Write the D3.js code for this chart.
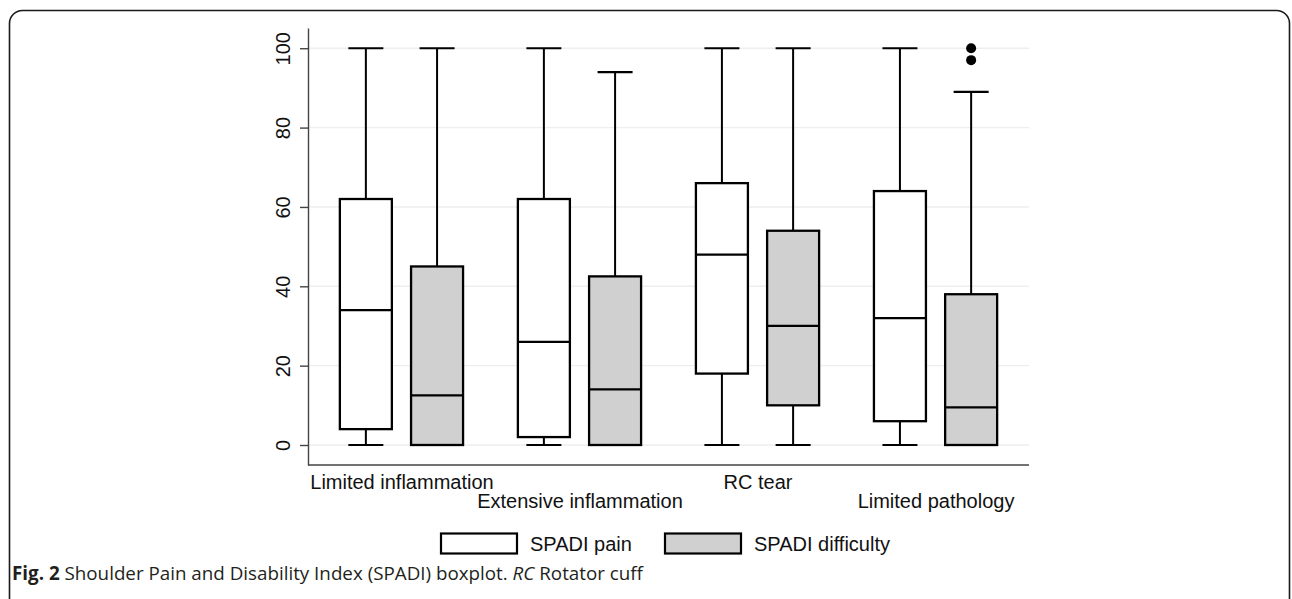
<!DOCTYPE html>
<html>
<head>
<meta charset="utf-8">
<script src="https://cdn.jsdelivr.net/npm/d3@7"></script>
<style>
  html, body { margin: 0; padding: 0; background: #ffffff; }
  svg { display: block; }
</style>
</head>
<body>
<svg id="chart" width="1292" height="599"></svg>
<script>
// ---- data ----
const categories = ["Limited inflammation", "Extensive inflammation", "RC tear", "Limited pathology"];
const seriesNames = ["SPADI pain", "SPADI difficulty"];
// [min whisker, Q1, median, Q3, max whisker] per category
const painStats = [
  [0, 4, 34, 62, 100],
  [0, 2, 26, 62, 100],
  [0, 18, 48, 66, 100],
  [0, 6, 32, 64, 100]
];
const difficultyStats = [
  [0, 0, 12.5, 45, 100],
  [0, 0, 14, 42.5, 94],
  [0, 10, 30, 54, 100],
  [0, 0, 9.5, 38, 89]
];
const difficultyOutliers = [[], [], [], [100, 97]];
const yTicks = [0, 20, 40, 60, 80, 100];
const seriesFill = ["#ffffff", "#d0d0d0"];

// ---- layout ----
const svg = d3.select("#chart");
const plot = { left: 308, right: 1029, top: 28, bottom: 465 };

// frame
svg.append("rect")
  .attr("x", 9.5).attr("y", 10.5)
  .attr("width", 1280).attr("height", 640)
  .attr("rx", 13).attr("ry", 13)
  .attr("fill", "none").attr("stroke", "#1a1a1a").attr("stroke-width", 1.6);

const x = d3.scalePoint().domain(categories).range([plot.left, plot.right]).padding(0.525);
const inner = d3.scalePoint().domain(seriesNames).range([-35.6, 35.6]);
const y = d3.scaleLinear().domain([-5.04, 105.1]).range([plot.bottom, plot.top]);

const boxW = 52, capW = 35;

// gridlines
svg.append("g").selectAll("line").data(yTicks).join("line")
  .attr("x1", plot.left).attr("x2", plot.right)
  .attr("y1", d => y(d)).attr("y2", d => y(d))
  .attr("stroke", "#eeeeee").attr("stroke-width", 1.4);

// y axis
const yAxis = svg.append("g")
  .attr("transform", `translate(${plot.left},0)`)
  .call(d3.axisLeft(y).tickValues(yTicks).tickSizeInner(8).tickSizeOuter(0));
yAxis.select(".domain").attr("stroke", "#444").attr("stroke-width", 1.4);
yAxis.selectAll(".tick line").attr("stroke", "#444").attr("stroke-width", 1.4);
yAxis.selectAll(".tick text")
  .attr("font-family", "'Liberation Sans', Arial, sans-serif")
  .attr("font-size", 20).attr("fill", "#111")
  .attr("text-anchor", "middle")
  .attr("transform", "translate(-25,0) rotate(-90)")
  .attr("x", 0).attr("y", 0).attr("dy", "0.35em");

// x axis
const xAxis = svg.append("g")
  .attr("transform", `translate(0,${plot.bottom})`)
  .call(d3.axisBottom(x).tickSize(0).tickSizeOuter(0).tickPadding(0));
xAxis.select(".domain").attr("stroke", "#444").attr("stroke-width", 1.4)
  .attr("d", `M${plot.left},0H${plot.right}`);
xAxis.selectAll(".tick text")
  .attr("font-family", "'Liberation Sans', Arial, sans-serif")
  .attr("font-size", 20).attr("fill", "#111")
  .attr("dy", null)
  .attr("y", (d, i) => i % 2 === 0 ? 24 : 43);

// boxes
const allSeries = [painStats, difficultyStats];
const g = svg.append("g");
allSeries.forEach((stats, si) => {
  const sName = seriesNames[si];
  stats.forEach((s, ci) => {
    const cx = x(categories[ci]) + inner(sName);
    const [mn, q1, med, q3, mx] = s;
    const bg = g.append("g");
    bg.append("line").attr("x1", cx).attr("x2", cx).attr("y1", y(q3)).attr("y2", y(mx))
      .attr("stroke", "#000").attr("stroke-width", 2);
    bg.append("line").attr("x1", cx).attr("x2", cx).attr("y1", y(q1)).attr("y2", y(mn))
      .attr("stroke", "#000").attr("stroke-width", 2);
    [mn, mx].forEach(v => {
      bg.append("line").attr("x1", cx - capW / 2).attr("x2", cx + capW / 2)
        .attr("y1", y(v)).attr("y2", y(v))
        .attr("stroke", "#000").attr("stroke-width", 2.2);
    });
    bg.append("rect").attr("x", cx - boxW / 2).attr("width", boxW)
      .attr("y", y(q3)).attr("height", y(q1) - y(q3))
      .attr("fill", seriesFill[si]).attr("stroke", "#000").attr("stroke-width", 2.3);
    bg.append("line").attr("x1", cx - boxW / 2).attr("x2", cx + boxW / 2)
      .attr("y1", y(med)).attr("y2", y(med))
      .attr("stroke", "#000").attr("stroke-width", 2.3);
  });
});

// outliers
difficultyOutliers.forEach((arr, ci) => {
  const cx = x(categories[ci]) + inner(seriesNames[1]);
  g.selectAll(null).data(arr).join("circle")
    .attr("cx", cx).attr("cy", d => y(d)).attr("r", 5)
    .attr("fill", "#000");
});

// legend
const legendX = [441, 665];
const legendY = 533.5;
const lg = svg.append("g");
seriesNames.forEach((name, i) => {
  lg.append("rect").attr("x", legendX[i]).attr("y", legendY)
    .attr("width", 76).attr("height", 20)
    .attr("fill", seriesFill[i]).attr("stroke", "#000").attr("stroke-width", 2.2);
  lg.append("text").attr("x", legendX[i] + 89).attr("y", legendY + 17)
    .attr("font-family", "'Liberation Sans', Arial, sans-serif")
    .attr("font-size", 20).attr("fill", "#111")
    .text(name);
});

// caption
const cap = svg.append("text").attr("x", 12).attr("y", 580)
  .attr("font-family", "'Open Sans', 'Noto Sans', sans-serif")
  .attr("font-size", 18.8).attr("fill", "#231f20");
cap.append("tspan").attr("font-weight", "bold").text("Fig. 2");
cap.append("tspan").text(" Shoulder Pain and Disability Index (SPADI) boxplot. ");
cap.append("tspan").attr("font-style", "italic").text("RC");
cap.append("tspan").text(" Rotator cuff");
</script>
</body>
</html>
